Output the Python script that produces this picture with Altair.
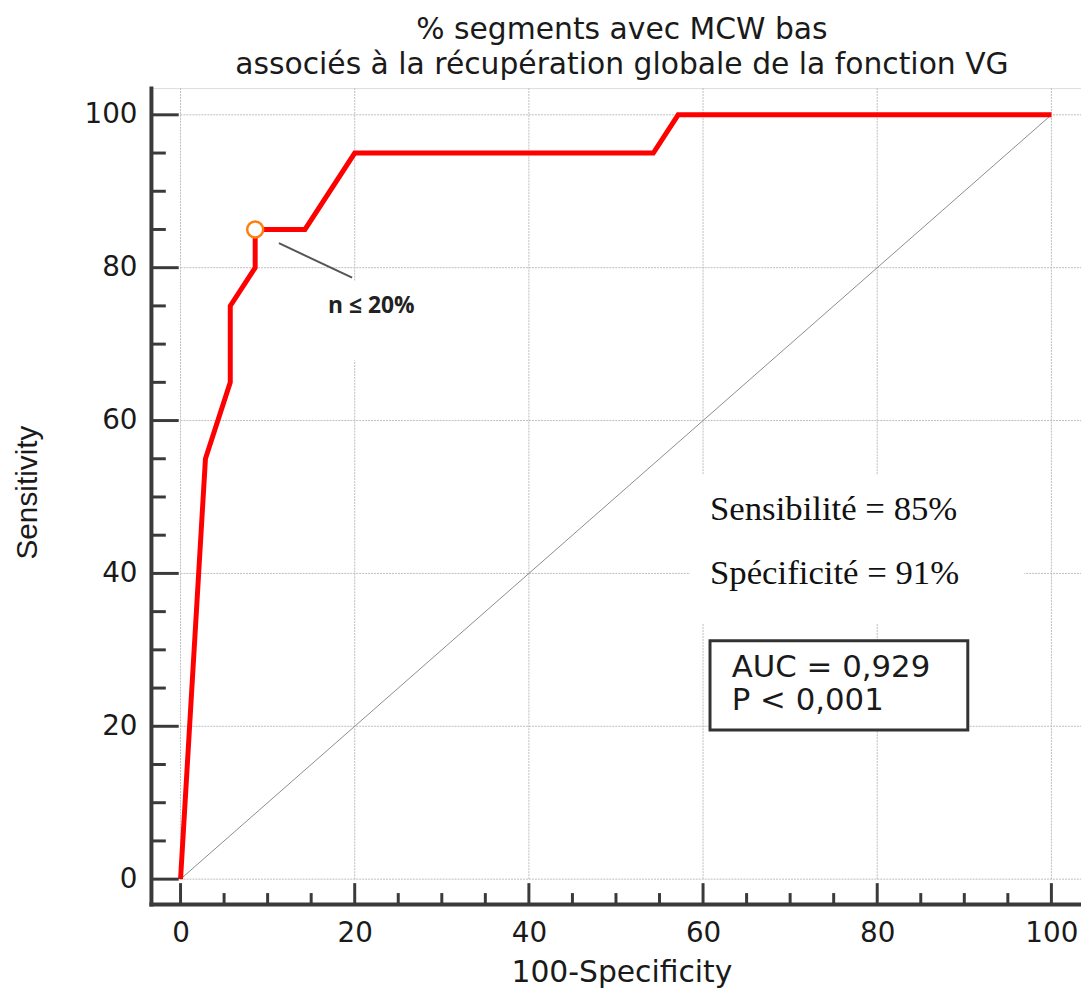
import altair as alt
import pandas as pd

# ---- data -------------------------------------------------------------
fpr = [0, 2.86, 5.71, 5.71, 8.57, 8.57, 14.29, 20.0, 54.29, 57.14, 100]
tpr = [0, 55, 65, 75, 80, 85, 85, 95, 95, 100, 100]

diag_x = [0, 100]
diag_y = [0, 100]

cut_x = [8.57]
cut_y = [85]

major_ticks = [0, 20, 40, 60, 80, 100]
minor_ticks = [5, 10, 15, 25, 30, 35, 45, 50, 55, 65, 70, 75, 85, 90, 95]

title_lines = ["% segments avec MCW bas",
               "associés à la récupération globale de la fonction VG"]

cut_label = "n ≤ 20%"
stat_lines = ["Sensibilité = 85%", "Spécificité = 91%"]
auc_lines = ["AUC = 0,929", "P < 0,001"]

# annotation anchor points (data units)
leader_x = [11.3, 19.7]
leader_y = [83.2, 78.7]
cut_label_xy = (21.9, 75.0)
stat_x = [60.8, 60.8]
stat_y = [47.0, 38.6]
auc_x = [63.3, 63.3]
auc_y = [26.4, 22.1]
auc_box = dict(x=60.8, x2=90.4, y=19.5, y2=31.2)
bg_boxes = dict(x=[12.0, 58.5], x2=[32.0, 96.9], y=[67.9, 33.5], y2=[78.3, 52.9])

# ---- layout -------------------------------------------------------------
W, H = 937, 822
xs = alt.Scale(domain=[-3.4, 103.4], nice=False, zero=False)
ys = alt.Scale(domain=[-3.25, 103.5], nice=False, zero=False)
AX = "#3a3a3a"
SANS = "DejaVu Sans"

roc = pd.DataFrame({"x": fpr, "y": tpr})
diag = pd.DataFrame({"x": diag_x, "y": diag_y})
cut = pd.DataFrame({"x": cut_x, "y": cut_y})
major = pd.DataFrame({"v": major_ticks})
minor = pd.DataFrame({"v": minor_ticks})
leader = pd.DataFrame({"x": leader_x, "y": leader_y})
stats = pd.DataFrame({"x": stat_x, "y": stat_y, "t": stat_lines})
aucs = pd.DataFrame({"x": auc_x, "y": auc_y, "t": auc_lines})
bgs = pd.DataFrame(bg_boxes)
aucb = pd.DataFrame({k: [v] for k, v in auc_box.items()})
cutl = pd.DataFrame({"x": [cut_label_xy[0]], "y": [cut_label_xy[1]], "t": [cut_label]})

x_axis = alt.Axis(values=major_ticks, ticks=False, grid=False, domain=True,
                  domainWidth=4, domainColor=AX, domainCap="square",
                  labelFont=SANS, labelFontSize=28, labelColor="#1a1a1a",
                  labelPadding=16, labelBaseline="top", labelFlush=False,
                  labelOverlap=False, format="d",
                  title="100-Specificity", titleFont=SANS, titleFontSize=30,
                  titleFontWeight="normal", titleColor="#1a1a1a",
                  titleBaseline="alphabetic", titleX=474, titleY=78,
                  titleAlign="center")
y_axis = alt.Axis(values=major_ticks, ticks=False, grid=False, domain=True,
                  domainWidth=4, domainColor=AX, domainCap="square",
                  labelFont=SANS, labelFontSize=28, labelColor="#1a1a1a",
                  labelPadding=14, labelBaseline="middle", labelFlush=False,
                  labelOverlap=False, format="d",
                  title="Sensitivity", titleFont="Liberation Sans", titleFontSize=30,
                  titleFontWeight="normal", titleColor="#1a1a1a",
                  titleAngle=-90, titleBaseline="alphabetic", titleAlign="center",
                  titleX=-115, titleY=407)


def X(f, **kw):
    return alt.X(f, scale=xs, axis=x_axis, **kw)


def Y(f, **kw):
    return alt.Y(f, scale=ys, axis=y_axis, **kw)


grid_style = dict(color="#bdbdbd", strokeWidth=1, strokeDash=[2, 1])

grid_v = alt.Chart(major).mark_rule(**grid_style).encode(
    x=X("v:Q"),
    y=alt.Y(datum=0, scale=ys, axis=y_axis),
    y2=alt.value(0),
)
grid_h = alt.Chart(major).mark_rule(**grid_style).encode(
    y=Y("v:Q"),
    x=alt.X(datum=0, scale=xs, axis=x_axis),
    x2=alt.value(W),
)

bg = alt.Chart(bgs).mark_rect(color="white").encode(
    x=X("x:Q"), x2="x2:Q", y=Y("y:Q"), y2="y2:Q",
)

diag_line = alt.Chart(diag).mark_line(color="#8c8c8c", strokeWidth=1).encode(
    x=X("x:Q"), y=Y("y:Q"),
)

roc_line = alt.Chart(roc).mark_line(color="#ff0000", strokeWidth=5,
                                    strokeJoin="miter").encode(
    x=X("x:Q"), y=Y("y:Q"),
    order=alt.Order("idx:Q"),
).transform_window(idx="row_number()")

marker = alt.Chart(cut).mark_point(shape="circle", size=260, filled=True,
                                   fill="white", stroke="#ff7f0e",
                                   strokeWidth=2.5, opacity=1).encode(
    x=X("x:Q"), y=Y("y:Q"),
)

leader_line = alt.Chart(leader).mark_line(color="#555555", strokeWidth=2).encode(
    x=X("x:Q"), y=Y("y:Q"),
)

cut_text = alt.Chart(cutl).mark_text(font="Open Sans", fontSize=23, fontWeight="bold",
                                     color="#222222", align="center",
                                     baseline="middle").encode(
    x=X("x:Q"), y=Y("y:Q"), text="t:N",
)

stat_text = alt.Chart(stats).mark_text(font="Liberation Serif", fontSize=35,
                                       color="#111111", align="left",
                                       baseline="alphabetic").encode(
    x=X("x:Q"), y=Y("y:Q"), text="t:N",
)

auc_rect = alt.Chart(aucb).mark_rect(fill="white", stroke="#333333",
                                     strokeWidth=3).encode(
    x=X("x:Q"), x2="x2:Q", y=Y("y:Q"), y2="y2:Q",
)

auc_text = alt.Chart(aucs).mark_text(font=SANS, fontSize=31, color="#1a1a1a",
                                     align="left", baseline="alphabetic").encode(
    x=X("x:Q"), y=Y("y:Q"), text="t:N",
)

tick_style = dict(color=AX, strokeWidth=3)
y_major = alt.Chart(major).mark_rule(**tick_style).encode(
    y=Y("v:Q"), x=alt.value(0), x2=alt.value(28))
y_minor = alt.Chart(minor).mark_rule(**tick_style).encode(
    y=Y("v:Q"), x=alt.value(0), x2=alt.value(15))
x_major = alt.Chart(major).mark_rule(**tick_style).encode(
    x=X("v:Q"), y=alt.value(H), y2=alt.value(H - 21))
x_minor = alt.Chart(minor).mark_rule(**tick_style).encode(
    x=X("v:Q"), y=alt.value(H), y2=alt.value(H - 11))

chart = alt.layer(
    grid_v, grid_h, bg, diag_line, roc_line, marker, leader_line, cut_text,
    stat_text, auc_rect, auc_text, y_major, y_minor, x_major, x_minor,
).properties(
    width=W, height=H,
    title=alt.TitleParams(text=title_lines, font=SANS, fontSize=30,
                          fontWeight="normal", color="#1a1a1a", lineHeight=35,
                          anchor="middle", frame="group", offset=8, dx=6),
    autosize=alt.AutoSizeParams(type="none"),
    padding={"left": 144, "top": 77, "right": 0, "bottom": 84},
).configure_view(strokeWidth=0, stroke="transparent").configure(background="white")

chart.save("out.html", embed_options={"renderer": "svg", "actions": False})
